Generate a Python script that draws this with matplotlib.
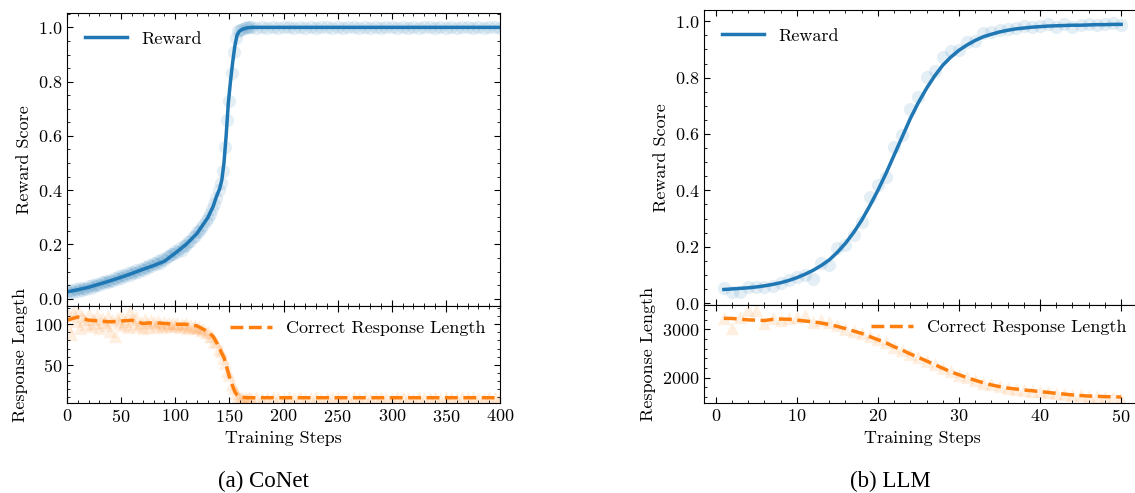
import numpy as np
import matplotlib
matplotlib.use("Agg")
import matplotlib.pyplot as plt
from matplotlib.ticker import MultipleLocator

# ---- CoNet run: reward per step (scatter) and smoothed curve ----
conet_steps = list(range(0, 171, 2)) + list(range(175, 401, 5))
conet_reward = [
    0.028, 0.022, 0.031, 0.026, 0.034, 0.030, 0.038, 0.033, 0.041, 0.037,
    0.046, 0.040, 0.050, 0.046, 0.055, 0.050, 0.060, 0.056, 0.064, 0.060,
    0.070, 0.065, 0.075, 0.071, 0.082, 0.076, 0.086, 0.083, 0.093, 0.088,
    0.097, 0.094, 0.105, 0.100, 0.111, 0.106, 0.118, 0.113, 0.124, 0.120,
    0.131, 0.126, 0.138, 0.133, 0.146, 0.141, 0.152, 0.158, 0.166, 0.163,
    0.175, 0.172, 0.185, 0.181, 0.196, 0.199, 0.210, 0.214, 0.226, 0.232,
    0.245, 0.250, 0.262, 0.272, 0.285, 0.298, 0.312, 0.330, 0.348, 0.372,
    0.400, 0.425, 0.470, 0.560, 0.660, 0.730, 0.830, 0.910, 0.960, 0.985,
    0.992, 0.995, 0.998, 1.000, 1.000, 1.000,
    0.998, 1.000, 0.999, 1.000, 0.997, 1.000, 1.000, 0.999, 1.000, 0.998,
    1.000, 0.999, 1.000, 1.000, 0.998, 1.000, 0.999, 1.000, 1.000, 0.997,
    1.000, 0.999, 1.000, 0.998, 1.000, 1.000, 0.999, 1.000, 0.998, 1.000,
    0.999, 1.000, 1.000, 0.998, 1.000, 0.999, 1.000, 0.999, 1.000, 1.000,
    0.998, 1.000, 0.999, 1.000, 1.000, 0.999,
]
conet_length = [
    98, 112, 88, 115, 104, 118, 96, 110, 107, 100,
    113, 98, 106, 102, 111, 95, 108, 103, 99, 110,
    92, 105, 86, 108, 101, 112, 99, 104, 97, 116,
    106, 100, 109, 98, 103, 95, 107, 101, 97, 105,
    103, 98, 104, 100, 97, 103, 99, 101, 98, 102,
    99, 101, 97, 100, 98, 101, 96, 99, 97, 98,
    95, 97, 93, 94, 90, 91, 86, 85, 79, 78,
    70, 67, 58, 52, 42, 37, 27, 21, 15, 12,
    10, 9, 10, 8, 10, 9,
    10, 8, 9, 11, 9, 8, 10, 9, 11, 8,
    9, 10, 8, 9, 11, 10, 8, 9, 10, 9,
    11, 8, 9, 10, 9, 8, 10, 11, 9, 8,
    10, 9, 9, 11, 8, 10, 9, 8, 10, 9,
    11, 9, 8, 10, 9, 10,
]

conet_smooth_steps = [0, 10, 20, 30, 40, 50, 60, 70, 80, 90, 100, 110, 120,
                      130, 135, 138, 141, 143, 145, 147, 149, 151, 153, 155,
                      157, 159, 162, 166, 170, 200, 250, 300, 350, 400]
conet_reward_smooth = [0.025, 0.033, 0.042, 0.054, 0.066, 0.079, 0.093, 0.108,
                       0.122, 0.138, 0.168, 0.200, 0.240, 0.298, 0.340, 0.376,
                       0.405, 0.437, 0.500, 0.600, 0.720, 0.800, 0.870, 0.930,
                       0.970, 0.985, 0.993, 0.998, 1.000, 1.000, 1.000, 1.000,
                       1.000, 1.000]
conet_length_smooth = [105, 109, 105, 104, 103, 104, 105, 101, 102, 101, 100,
                       100, 98, 91, 85, 78, 70, 64, 59, 50, 40, 31, 24, 17,
                       13, 11, 10, 9.5, 9.5, 9.5, 9.5, 9.5, 9.5, 9.5]

# ---- LLM run: 50 training steps ----
llm_steps = list(range(1, 51))
llm_reward = [
    0.052, 0.040, 0.040, 0.058, 0.056, 0.058, 0.060, 0.072, 0.082, 0.093,
    0.099, 0.087, 0.141, 0.135, 0.194, 0.206, 0.241, 0.288, 0.377, 0.418,
    0.448, 0.554, 0.596, 0.690, 0.731, 0.802, 0.824, 0.873, 0.895, 0.897,
    0.926, 0.930, 0.960, 0.962, 0.970, 0.974, 0.977, 0.982, 0.980, 0.982,
    0.989, 0.980, 0.990, 0.980, 0.986, 0.989, 0.986, 0.991, 0.994, 0.986,
]
llm_reward_smooth = [
    0.048, 0.050, 0.052, 0.054, 0.057, 0.061, 0.066, 0.072, 0.080, 0.090,
    0.102, 0.116, 0.133, 0.153, 0.180, 0.212, 0.250, 0.294, 0.345, 0.400,
    0.460, 0.525, 0.590, 0.655, 0.712, 0.762, 0.806, 0.844, 0.873, 0.897,
    0.916, 0.932, 0.945, 0.954, 0.962, 0.968, 0.973, 0.976, 0.979, 0.981,
    0.983, 0.984, 0.985, 0.986, 0.986, 0.987, 0.988, 0.988, 0.989, 0.989,
]
llm_length = [
    3240, 3020, 3255, 3400, 3400, 3124, 3228, 3186, 3228, 3250,
    3296, 3150, 3200, 3150, 3080, 3000, 2975, 2930, 2870, 2790,
    2730, 2640, 2580, 2490, 2430, 2340, 2280, 2190, 2130, 2060,
    2010, 1950, 1900, 1860, 1820, 1790, 1770, 1750, 1730, 1720,
    1700, 1685, 1665, 1650, 1640, 1625, 1620, 1610, 1605, 1560,
]
llm_length_smooth = [
    3227, 3225, 3210, 3195, 3190, 3182, 3205, 3212, 3208, 3190,
    3172, 3155, 3130, 3100, 3060, 3015, 2965, 2915, 2850, 2785,
    2720, 2640, 2570, 2490, 2420, 2345, 2270, 2195, 2120, 2060,
    2000, 1945, 1895, 1850, 1815, 1785, 1765, 1745, 1730, 1712,
    1695, 1675, 1660, 1642, 1630, 1620, 1615, 1607, 1604, 1600,
]

BLUE = "#1f77b4"
ORANGE = "#ff7f0e"

plt.rcParams.update({
    "font.family": "cmr10",
    "mathtext.fontset": "cm",
    "axes.formatter.use_mathtext": True,
    "font.size": 13,
    "axes.linewidth": 0.8,
    "xtick.direction": "in",
    "ytick.direction": "in",
    "xtick.top": True,
    "ytick.right": True,
    "xtick.minor.visible": True,
    "ytick.minor.visible": True,
    "xtick.major.size": 4.5,
    "ytick.major.size": 4.5,
    "xtick.minor.size": 2.2,
    "ytick.minor.size": 2.2,
    "xtick.major.width": 0.8,
    "ytick.major.width": 0.8,
    "xtick.minor.width": 0.6,
    "ytick.minor.width": 0.6,
    "legend.frameon": False,
})

fig = plt.figure(figsize=(11.35, 4.93), dpi=100)
W, H = 1135, 493


def px_axes(x0, x1, y0, y1, **kw):
    return fig.add_axes([x0 / W, 1 - y1 / H, (x1 - x0) / W, (y1 - y0) / H], **kw)


def draw_panel(ax_r, ax_l, steps, reward, s_steps, r_smooth, length, l_smooth):
    ax_r.scatter(steps, reward, s=90, color=BLUE, alpha=0.12, linewidths=0)
    ax_r.plot(s_steps, r_smooth, color=BLUE, lw=2.5, label="Reward")
    ax_l.scatter(steps, length, s=90, marker="^", color=ORANGE, alpha=0.12,
                 linewidths=0)
    ax_l.plot(s_steps, l_smooth, color=ORANGE, lw=2.5, ls="--",
              label="Correct Response Length")
    ax_r.set_ylabel("Reward Score")
    ax_l.set_ylabel("Response Length")
    ax_l.set_xlabel("Training Steps")
    ax_r.tick_params(labelbottom=False)
    ax_r.legend(loc="upper left", handlelength=2.3, borderaxespad=0.6)
    ax_l.legend(loc="upper right", handlelength=2.3, borderaxespad=0.4)


# (a) CoNet
ax1 = px_axes(67, 500, 13, 306)
ax2 = px_axes(67, 500, 306, 403, sharex=ax1)
draw_panel(ax1, ax2, conet_steps, conet_reward, conet_smooth_steps,
           conet_reward_smooth, conet_length, conet_length_smooth)
ax1.set_xlim(0, 400)
ax1.set_ylim(-0.027, 1.053)
ax2.set_ylim(3, 122.5)
ax1.xaxis.set_major_locator(MultipleLocator(50))
ax1.xaxis.set_minor_locator(MultipleLocator(10))
ax1.yaxis.set_major_locator(MultipleLocator(0.2))
ax1.yaxis.set_minor_locator(MultipleLocator(0.05))
ax2.yaxis.set_major_locator(MultipleLocator(50))
ax2.yaxis.set_minor_locator(MultipleLocator(10))

# (b) LLM
ax3 = px_axes(704, 1141, 10, 305)
ax4 = px_axes(704, 1141, 305, 403, sharex=ax3)
draw_panel(ax3, ax4, llm_steps, llm_reward, llm_steps, llm_reward_smooth,
           llm_length, llm_length_smooth)
ax3.set_xlim(-1.45, 52.45)
ax3.set_ylim(-0.007, 1.04)
ax4.set_ylim(1476, 3503)
ax3.xaxis.set_major_locator(MultipleLocator(10))
ax3.xaxis.set_minor_locator(MultipleLocator(2))
ax3.yaxis.set_major_locator(MultipleLocator(0.2))
ax3.yaxis.set_minor_locator(MultipleLocator(0.05))
ax4.yaxis.set_major_locator(MultipleLocator(1000))
ax4.yaxis.set_minor_locator(MultipleLocator(200))

fig.text(263 / W, 1 - 481 / H, "(a) CoNet", family="Liberation Serif",
         fontsize=16.5, ha="center", va="center")
fig.text(890 / W, 1 - 481 / H, "(b) LLM", family="Liberation Serif",
         fontsize=16.5, ha="center", va="center")

fig.savefig("out.png", dpi=100)
